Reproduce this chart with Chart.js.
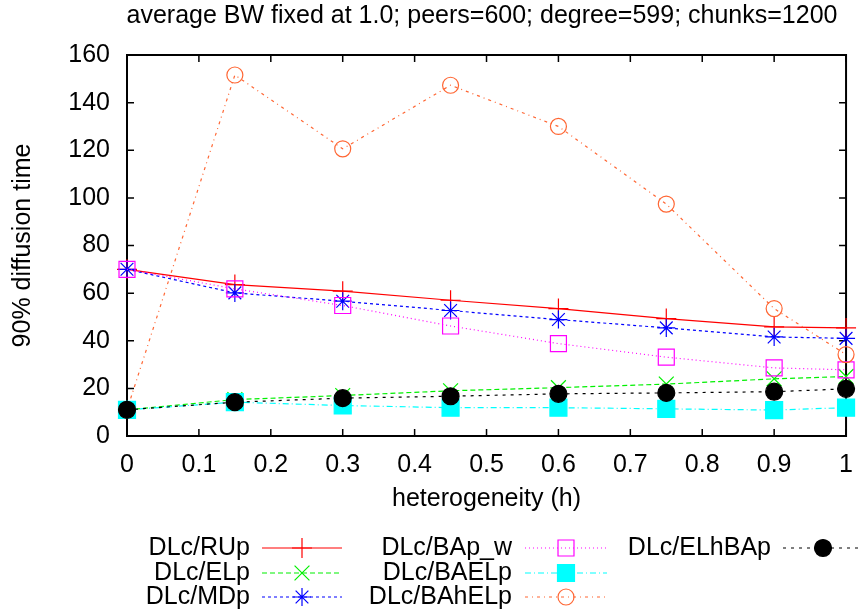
<!DOCTYPE html>
<html>
<head>
<meta charset="utf-8">
<script src="https://cdn.jsdelivr.net/npm/chart.js@4/dist/chart.umd.min.js"></script>
<style>
  html, body { margin: 0; padding: 0; background: #fff; }
  canvas { display: block; }
</style>
</head>
<body>
<canvas id="chart" width="867" height="615"></canvas>
<script>
const titleText = 'average BW fixed at 1.0; peers=600; degree=599; chunks=1200';
const xTitle = 'heterogeneity (h)';
const yTitle = '90% diffusion time';

const xValues = [0, 0.15, 0.3, 0.45, 0.6, 0.75, 0.9, 1.0];
const xTicks = [0, 0.1, 0.2, 0.3, 0.4, 0.5, 0.6, 0.7, 0.8, 0.9, 1];
const yTicks = [0, 20, 40, 60, 80, 100, 120, 140, 160];

const seriesNames = ['DLc/RUp', 'DLc/ELp', 'DLc/MDp', 'DLc/BAp_w', 'DLc/BAELp', 'DLc/BAhELp', 'DLc/ELhBAp'];
const rup = [70, 63.6, 60.8, 57, 53.5, 49.3, 45.8, 45.4];
const elp = [11, 15.3, 17, 19, 20.3, 21.8, 24, 25];
const mdp = [70, 60.1, 56.6, 52.7, 48.9, 45.4, 41.6, 41];
const bapW = [70, 61.8, 54.8, 46.2, 38.8, 33.1, 28.6, 27.8];
const baelp = [11, 14.2, 12.8, 11.9, 11.9, 11.4, 10.9, 11.9];
const bahelp = [11, 151.6, 120.6, 147.3, 130, 97.4, 53.5, 34.2];
const elhbap = [11, 14.2, 15.9, 16.7, 17.7, 18.1, 18.6, 19.8];
const seriesValues = [rup, elp, mdp, bapW, baelp, bahelp, elhbap];

// look of each series (gnuplot-ish)
const styles = [
  { color: '#ff0000', dash: [], point: 'cross', radius: 10, fill: false },
  { color: '#00f000', dash: [5, 3], point: 'crossRot', radius: 10.5, fill: false },
  { color: '#0000ff', dash: [3, 3], point: 'star', radius: 9, fill: false },
  { color: '#ff00ff', dash: [1, 3], point: 'rect', radius: 11.3, fill: false },
  { color: '#00ffff', dash: [6, 3, 1, 3], point: 'rect', radius: 12, fill: true },
  { color: '#ff6633', dash: [3, 4, 1, 4], point: 'circle', radius: 8, fill: false },
  { color: '#000000', dash: [3, 5], point: 'circle', radius: 8.5, fill: true },
];

const FONT = "'Liberation Sans', Arial, sans-serif";
Chart.defaults.font.family = FONT;
Chart.defaults.font.size = 25;
Chart.defaults.color = '#000';

const datasets = seriesNames.map((name, i) => {
  const s = styles[i];
  return {
    label: name,
    data: xValues.map((x, j) => ({ x, y: seriesValues[i][j] })),
    borderColor: s.color,
    borderWidth: 1.2,
    borderDash: s.dash,
    backgroundColor: s.fill ? s.color : 'rgba(0,0,0,0)',
    pointStyle: s.point,
    pointRadius: s.radius,
    pointBorderWidth: 1.2,
    pointBorderColor: s.color,
    pointBackgroundColor: s.fill ? s.color : 'rgba(0,0,0,0)',
    tension: 0,
    fill: false,
    clip: false,
    order: seriesNames.length - i,
  };
});

const framePlugin = {
  id: 'frame',
  beforeDatasetsDraw(chart) {
    const { ctx, chartArea: a, scales } = chart;
    ctx.save();
    ctx.strokeStyle = '#000';
    ctx.lineWidth = 1.5;
    ctx.beginPath();
    xTicks.forEach(v => {
      const px = scales.x.getPixelForValue(v);
      ctx.moveTo(px, a.bottom); ctx.lineTo(px, a.bottom - 7);
      ctx.moveTo(px, a.top); ctx.lineTo(px, a.top + 7);
    });
    yTicks.forEach(v => {
      const py = scales.y.getPixelForValue(v);
      ctx.moveTo(a.left, py); ctx.lineTo(a.left + 7, py);
      ctx.moveTo(a.right, py); ctx.lineTo(a.right - 7, py);
    });
    ctx.stroke();
    ctx.lineWidth = 2;
    ctx.strokeRect(a.left, a.top, a.right - a.left, a.bottom - a.top);
    ctx.restore();
  },
  afterDraw(chart) {
    const { ctx } = chart;
    ctx.save();
    ctx.fillStyle = '#000';
    ctx.font = '25px ' + FONT;
    ctx.textAlign = 'center';
    ctx.textBaseline = 'middle';
    ctx.fillText(titleText, 482, 16);

    // legend: three columns, label then sample
    const cols = [
      { right: 250, x0: 262, x1: 342 },
      { right: 512, x0: 525, x1: 607 },
      { right: 771, x0: 783, x1: 863 },
    ];
    const rows = [548, 573, 597];
    seriesNames.forEach((name, i) => {
      const c = cols[Math.floor(i / 3)];
      const y = rows[i % 3];
      const s = styles[i];
      ctx.textAlign = 'right';
      ctx.fillStyle = '#000';
      ctx.fillText(name, c.right, y);
      ctx.strokeStyle = s.color;
      ctx.lineWidth = 1.2;
      ctx.setLineDash(s.dash);
      ctx.beginPath();
      ctx.moveTo(c.x0, y); ctx.lineTo(c.x1, y);
      ctx.stroke();
      ctx.setLineDash([]);
      ctx.fillStyle = s.fill ? s.color : 'rgba(0,0,0,0)';
      Chart.helpers.drawPoint(ctx, {
        pointStyle: s.point, radius: s.radius, rotation: 0, borderWidth: 1.2
      }, (c.x0 + c.x1) / 2, y);
    });
    ctx.restore();
  }
};

new Chart(document.getElementById('chart'), {
  type: 'line',
  data: { datasets },
  options: {
    responsive: false,
    animation: false,
    devicePixelRatio: 1,
    layout: { padding: { left: 0, top: 55, right: 17, bottom: 615 - 436 - 80 } },
    plugins: { legend: { display: false }, title: { display: false }, tooltip: { enabled: false } },
    scales: {
      x: {
        type: 'linear',
        min: 0,
        max: 1,
        afterBuildTicks: s => { s.ticks = xTicks.map(v => ({ value: v })); },
        afterFit: s => { s.height = 80; },
        grid: { display: false, drawTicks: false },
        border: { display: false },
        ticks: { padding: 14, maxRotation: 0, autoSkip: false, callback: v => String(v) },
        title: { display: true, text: xTitle, padding: { top: 0, bottom: 2 } },
      },
      y: {
        type: 'linear',
        min: 0,
        max: 160,
        afterBuildTicks: s => { s.ticks = yTicks.map(v => ({ value: v })); },
        afterFit: s => { s.width = 127; },
        grid: { display: false, drawTicks: false },
        border: { display: false },
        ticks: { padding: 17, autoSkip: false },
        title: { display: true, text: yTitle, padding: { top: 8, bottom: 0 } },
      },
    },
  },
  plugins: [framePlugin],
});
</script>
</body>
</html>
